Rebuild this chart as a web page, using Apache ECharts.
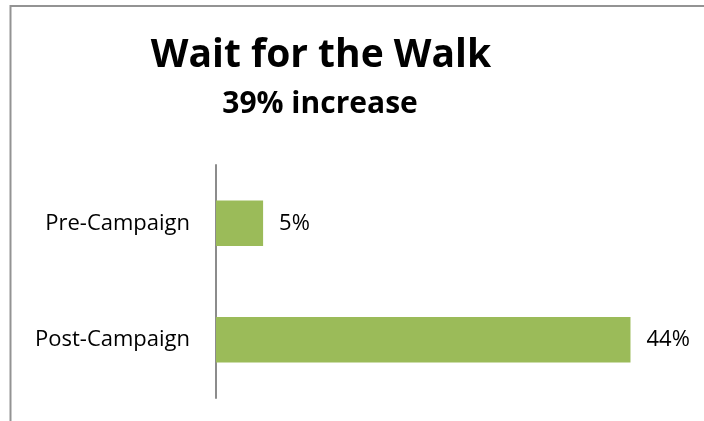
<!DOCTYPE html>
<html>
<head>
<meta charset="utf-8">
<script src="https://cdn.jsdelivr.net/npm/echarts@6/dist/echarts.min.js"></script>
<style>
  html, body { margin: 0; padding: 0; background: #fff; }
  #chart { width: 704px; height: 421px; }
</style>
</head>
<body>
<div id="chart"></div>
<script>
// Share of pedestrians who wait for the walk signal, before and after the campaign
const categories = ['Pre-Campaign', 'Post-Campaign'];
const values = [5, 44];
const titleText = 'Wait for the Walk';
const subtitleText = '39% increase';

const font = '"Open Sans", "Noto Sans", sans-serif';
const chart = echarts.init(document.getElementById('chart'));

chart.setOption({
  animation: false,
  backgroundColor: '#ffffff',
  title: [
    {
      text: titleText,
      left: 316, top: 31, textAlign: 'center',
      textStyle: { fontFamily: font, fontSize: 39, fontWeight: 'bold', color: '#000' }
    },
    {
      text: subtitleText,
      left: 315, top: 84, textAlign: 'center',
      textStyle: { fontFamily: font, fontSize: 30, fontWeight: 'bold', color: '#000' }
    }
  ],
  graphic: [{
    type: 'rect',
    shape: { x: 10.5, y: 6, width: 720, height: 440 },
    style: { fill: 'none', stroke: '#939393', lineWidth: 2 },
    silent: true
  }],
  grid: { left: 216, right: 17, top: 165, bottom: 23, containLabel: false },
  xAxis: {
    type: 'value', min: 0, max: 50,
    show: false
  },
  yAxis: {
    type: 'category',
    data: categories,
    inverse: true,
    axisLine: { show: true, lineStyle: { color: '#8c8c8c', width: 2 } },
    axisTick: { show: false },
    axisLabel: { fontFamily: font, fontSize: 22, color: '#000', margin: 26 }
  },
  series: [{
    type: 'bar',
    data: values,
    barWidth: '39%',
    itemStyle: { color: '#9bbb59' },
    label: {
      show: true, position: 'right', distance: 16,
      formatter: p => p.value + '%',
      fontFamily: font, fontSize: 22, color: '#000'
    }
  }]
});
</script>
</body>
</html>
